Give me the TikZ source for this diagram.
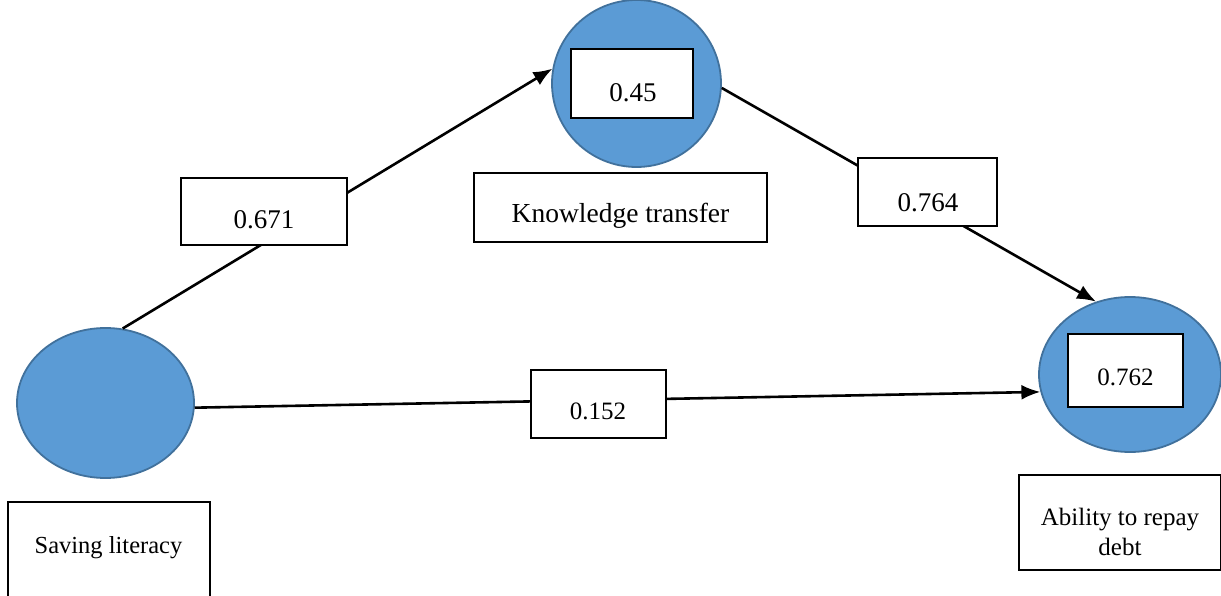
\documentclass[tikz,border=0pt]{standalone}
\usepackage{fontspec}
\setmainfont{Liberation Serif}
\usetikzlibrary{shapes.geometric,arrows.meta}
\definecolor{efill}{RGB}{91,155,213}
\definecolor{eline}{RGB}{65,113,156}
\tikzset{
  latent/.style={ellipse,fill=efill,draw=eline,line width=1.8pt,inner sep=0pt},
  valbox/.style={rectangle,draw=black,fill=white,line width=1.8pt,inner sep=0pt},
  txt/.style={inner sep=0pt,anchor=base},
  path/.style={line width=2.6pt,draw=black},
  patharrow/.style={path,-{Latex[length=19pt,width=15pt]}}
}
\begin{document}
\begin{tikzpicture}[x=1pt,y=-1pt]
\useasboundingbox (0,0) rectangle (1221,596);
\clip (0,0) rectangle (1221,596);
% latent variables
\node[latent,minimum width=177pt,minimum height=150pt] (sl) at (105.5,403) {};
\node[latent,minimum width=169pt,minimum height=167pt] (kt) at (636.5,83.5) {};
\node[latent,minimum width=182pt,minimum height=155pt] (ab) at (1130,374.5) {};
% connectors
\draw[patharrow] (sl.77) -- (kt.170);
\draw[patharrow] (kt.-3) -- (ab.115);
\draw[patharrow] (sl.-3) -- (ab.191);
% coefficient boxes
\node[valbox,minimum width=166pt,minimum height=67pt] (b671) at (264,211.5) {};
\node[txt,font=\fontsize{27}{32}\selectfont] (t671) at (264,229) {0.671};
\node[valbox,minimum width=139pt,minimum height=68pt] (b764) at (927.5,192) {};
\node[txt,font=\fontsize{27}{32}\selectfont] (t764) at (928,212) {0.764};
\node[valbox,minimum width=135pt,minimum height=68pt] (b152) at (598.5,404) {};
\node[txt,font=\fontsize{25}{30}\selectfont] (t152) at (598,419) {0.152};
% R2 boxes
\node[valbox,minimum width=122pt,minimum height=69pt] (b45) at (632,83.5) {};
\node[txt,font=\fontsize{27}{32}\selectfont] (t45) at (633,102) {0.45};
\node[valbox,minimum width=115pt,minimum height=73pt] (b762) at (1125.5,370.5) {};
\node[txt,font=\fontsize{25}{30}\selectfont] (t762) at (1125.5,385) {0.762};
% name boxes
\node[valbox,minimum width=293pt,minimum height=69pt] (nkt) at (620.5,207.5) {};
\node[txt,font=\fontsize{27.5}{32}\selectfont] (tkt) at (620.5,223) {Knowledge transfer};
\node[valbox,minimum width=202pt,minimum height=120pt] (nsl) at (109,562) {};
\node[txt,font=\fontsize{24.5}{29}\selectfont] (tsl) at (108.5,553) {Saving literacy};
\node[valbox,minimum width=202pt,minimum height=95pt] (nab) at (1120,522.5) {};
\node[inner sep=0pt,align=center,font=\fontsize{25}{29.5}\selectfont] (tab) at (1120,532) {Ability to repay\\debt};
\end{tikzpicture}
\end{document}
